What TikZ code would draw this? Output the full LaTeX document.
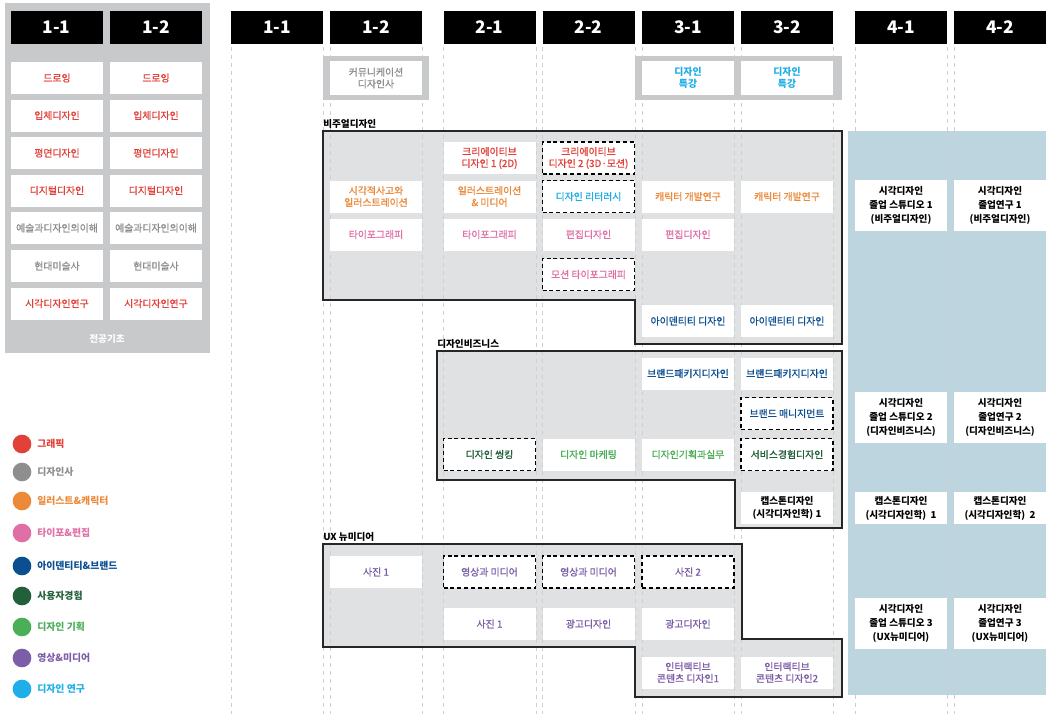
\documentclass[tikz,border=0pt]{standalone}
\usepackage{fontspec}
\setmainfont{Noto Sans CJK KR}
\newfontfamily\medfont{Noto Sans CJK KR}[FakeBold=1.0]
\definecolor{cRed}{HTML}{E2413A}
\definecolor{cGray}{HTML}{8E8E8E}
\definecolor{cOrange}{HTML}{EC8A3A}
\definecolor{cPink}{HTML}{E06FA6}
\definecolor{cBlue}{HTML}{0B4F91}
\definecolor{cDkGreen}{HTML}{22603A}
\definecolor{cGreen}{HTML}{4BAE58}
\definecolor{cPurple}{HTML}{7B5EA7}
\definecolor{cCyan}{HTML}{1EAEE8}
\definecolor{panelgray}{HTML}{C8C9CB}
\definecolor{blockgray}{HTML}{DFE1E2}
\definecolor{bluefill}{HTML}{BCD5DF}
\definecolor{vlinec}{HTML}{CFCFCF}
\tikzset{
  hdr/.style={fill=black, text=white, minimum width=69pt, minimum height=24.75pt, inner sep=0pt, font=\fontsize{13}{14}\selectfont\bfseries},
  box/.style={fill=white, minimum width=69pt, minimum height=24pt, inner sep=0pt, align=center, font=\medfont\fontsize{7.4}{8.8}\selectfont},
  dbox/.style={box, draw=black, line width=1.4pt, dash pattern=on 3pt off 2.2pt},
  gbox/.style={box, minimum height=38.25pt, text=black, font=\fontsize{7.2}{10.8}\selectfont\bfseries},
  blockline/.style={draw=black!85, line width=1.5pt},
  vline/.style={draw=vlinec, line width=0.6pt, dash pattern=on 3pt off 3pt},
  blabel/.style={anchor=south west, inner sep=0pt, font=\fontsize{7.2}{8}\selectfont\bfseries},
  dot/.style={circle, minimum size=14pt, inner sep=0pt},
  legtext/.style={anchor=west, inner sep=0pt, font=\fontsize{7.4}{8}\selectfont\bfseries}
}
\begin{document}
\begin{tikzpicture}[x=0.75pt,y=-0.75pt]
\useasboundingbox (0,0) rectangle (1046,714);
\fill[white] (0,0) rectangle (1046,714);

% ---------- left panel ----------
\fill[panelgray] (5,3) rectangle (210,353);
\node[hdr] (p11) at (56.5,27.5) {1-1};
\node[hdr] (p12) at (156,27.5) {1-2};
\foreach \c/\n in {57/a,156/b}{
  \node[box,text=cRed] (pd\n) at (\c,78) {드로잉};
  \node[box,text=cRed] (pi\n) at (\c,115.5) {입체디자인};
  \node[box,text=cRed] (pp\n) at (\c,153) {평면디자인};
  \node[box,text=cRed] (pg\n) at (\c,190.5) {디지털디자인};
  \node[box,text=cGray] (pe\n) at (\c,228) {예술과디자인의이해};
  \node[box,text=cGray] (ph\n) at (\c,266) {현대미술사};
  \node[box,text=cRed] (ps\n) at (\c,303.5) {시각디자인연구};
}
\node[text=white, font=\fontsize{7.2}{8}\selectfont\bfseries, inner sep=0pt] (pbase) at (107,339) {전공기초};

% ---------- legend ----------
\foreach \y/\col/\t/\n in {444/cRed/그래픽/1, 472/cGray/디자인사/2, 501/cOrange/일러스트\&캐릭터/3, 533/cPink/타이포\&편집/4, 566/cBlue/아이덴티티\&브랜드/5, 596/cDkGreen/사용자경험/6, 627/cGreen/디자인 기획/7, 658/cPurple/영상\&미디어/8, 689/cCyan/디자인 연구/9}{
  \node[dot, fill=\col] (ld\n) at (22,\y) {};
  \node[legtext, text=\col] (lt\n) at (37,\y) {\t};
}

% ---------- fills ----------
\fill[bluefill] (848,131) rectangle (1046,695);
\fill[blockgray] (323,131) -- (842,131) -- (842,344) -- (635,344) -- (635,300) -- (323,300) -- cycle;
\fill[blockgray] (437,351) -- (842,351) -- (842,528) -- (735,528) -- (735,480) -- (437,480) -- cycle;
\fill[blockgray] (323,544) -- (742,544) -- (742,639) -- (842,639) -- (842,697) -- (635,697) -- (635,647) -- (323,647) -- cycle;

% ---------- column guide lines ----------
\foreach \x in {231,323,330,422,443,536,542,635,642,734,741,833,855,947,954}{
  \draw[vline] (\x,47) -- (\x,714);
}

% ---------- block outlines ----------
\draw[blockline] (323,131) -- (842,131) -- (842,344) -- (635,344) -- (635,300) -- (323,300) -- cycle;
\draw[blockline] (437,351) -- (842,351) -- (842,528) -- (735,528) -- (735,480) -- (437,480) -- cycle;
\draw[blockline] (323,544) -- (742,544) -- (742,639) -- (842,639) -- (842,697) -- (635,697) -- (635,647) -- (323,647) -- cycle;
\node[blabel] (lvis) at (323,129) {비주얼디자인};
\node[blabel] (lbiz) at (437,349) {디자인비즈니스};
\node[blabel] (lux) at (323,542) {UX 뉴미디어};

% ---------- headers ----------
\node[hdr] (m11) at (277,27.5) {1-1};
\node[hdr] (m12) at (376,27.5) {1-2};
\node[hdr] (m21) at (489.5,27.5) {2-1};
\node[hdr] (m22) at (588.5,27.5) {2-2};
\node[hdr] (m31) at (688,27.5) {3-1};
\node[hdr] (m32) at (787,27.5) {3-2};
\node[hdr] (m41) at (901,27.5) {4-1};
\node[hdr] (m42) at (1000,27.5) {4-2};

% ---------- top frames ----------
\fill[panelgray] (323,56) rectangle (429,100);
\fill[panelgray] (635,56) rectangle (842,100);
\node[box, minimum height=25.5pt, text=cGray] (comm) at (376,78) {커뮤니케이션\\디자인사};
\node[box, minimum height=25.5pt, text=cCyan, font=\fontsize{7.4}{8.8}\selectfont\bfseries] (sp1) at (688,78) {디자인\\특강};
\node[box, minimum height=25.5pt, text=cCyan, font=\fontsize{7.4}{8.8}\selectfont\bfseries] (sp2) at (787,78) {디자인\\특강};

% ---------- visual design ----------
\node[box,text=cRed] (v1) at (489.5,158) {크리에이티브\\디자인 1 (2D)};
\node[dbox,text=cRed] (v2) at (588.5,158) {크리에이티브\\디자인 2 (3D·모션)};
\node[box,text=cOrange] (v3) at (376,196.5) {시각적사고와\\일러스트레이션};
\node[box,text=cOrange] (v4) at (489.5,196.5) {일러스트레이션\\\& 미디어};
\node[dbox,text=cCyan] (v5) at (588.5,196.5) {디자인 리터러시};
\node[box,text=cOrange] (v6) at (688,196.5) {캐릭터 개발연구};
\node[box,text=cOrange] (v7) at (787,196.5) {캐릭터 개발연구};
\node[box,text=cPink] (v8) at (376,234.5) {타이포그래피};
\node[box,text=cPink] (v9) at (489.5,234.5) {타이포그래피};
\node[box,text=cPink] (v10) at (588.5,234.5) {편집디자인};
\node[box,text=cPink] (v11) at (688,234.5) {편집디자인};
\node[dbox,text=cPink] (v12) at (588.5,274.5) {모션 타이포그래피};
\node[box,text=cBlue] (v13) at (688,321) {아이덴티티 디자인};
\node[box,text=cBlue] (v14) at (787,321) {아이덴티티 디자인};

% ---------- design business ----------
\node[box,text=cBlue] (b1) at (688,373.5) {브랜드패키지디자인};
\node[box,text=cBlue] (b2) at (787,373.5) {브랜드패키지디자인};
\node[dbox,text=cBlue] (b3) at (787,413.5) {브랜드 매니지먼트};
\node[dbox,text=cDkGreen] (b4) at (489.5,454.5) {디자인 씽킹};
\node[box,text=cGreen] (b5) at (588.5,454.5) {디자인 마케팅};
\node[box,text=cGreen] (b6) at (688,454.5) {디자인기획과실무};
\node[dbox,text=cDkGreen] (b7) at (787,454.5) {서비스경험디자인};
\node[box,text=black,font=\fontsize{7.2}{9.2}\selectfont\bfseries] (b8) at (787,508) {캡스톤디자인\\(시각디자인학) 1};

% ---------- UX new media ----------
\node[box,text=cPurple] (u1) at (376,572) {사진 1};
\node[dbox,text=cPurple] (u2) at (489.5,572) {영상과 미디어};
\node[dbox,text=cPurple] (u3) at (588.5,572) {영상과 미디어};
\node[dbox,text=cPurple] (u4) at (688,572) {사진 2};
\node[box,text=cPurple] (u5) at (489.5,624) {사진 1};
\node[box,text=cPurple] (u6) at (588.5,624) {광고디자인};
\node[box,text=cPurple] (u7) at (688,624) {광고디자인};
\node[box,text=cPurple] (u8) at (688,672.5) {인터랙티브\\콘텐츠 디자인1};
\node[box,text=cPurple] (u9) at (787,672.5) {인터랙티브\\콘텐츠 디자인2};

% ---------- graduation ----------
\node[gbox] (g1) at (901,205.5) {시각디자인\\졸업 스튜디오 1\\(비주얼디자인)};
\node[gbox] (g2) at (1000,205.5) {시각디자인\\졸업연구 1\\(비주얼디자인)};
\node[gbox] (g3) at (901,417.5) {시각디자인\\졸업 스튜디오 2\\(디자인비즈니스)};
\node[gbox] (g4) at (1000,417.5) {시각디자인\\졸업연구 2\\(디자인비즈니스)};
\node[gbox, minimum height=24pt, font=\fontsize{7.2}{10.5}\selectfont\bfseries] (g5) at (901,508) {캡스톤디자인\\(시각디자인학)~~1};
\node[gbox, minimum height=24pt, font=\fontsize{7.2}{10.5}\selectfont\bfseries] (g6) at (1000,508) {캡스톤디자인\\(시각디자인학)~~2};
\node[gbox] (g7) at (901,623.5) {시각디자인\\졸업 스튜디오 3\\(UX뉴미디어)};
\node[gbox] (g8) at (1000,623.5) {시각디자인\\졸업연구 3\\(UX뉴미디어)};
\end{tikzpicture}
\end{document}
